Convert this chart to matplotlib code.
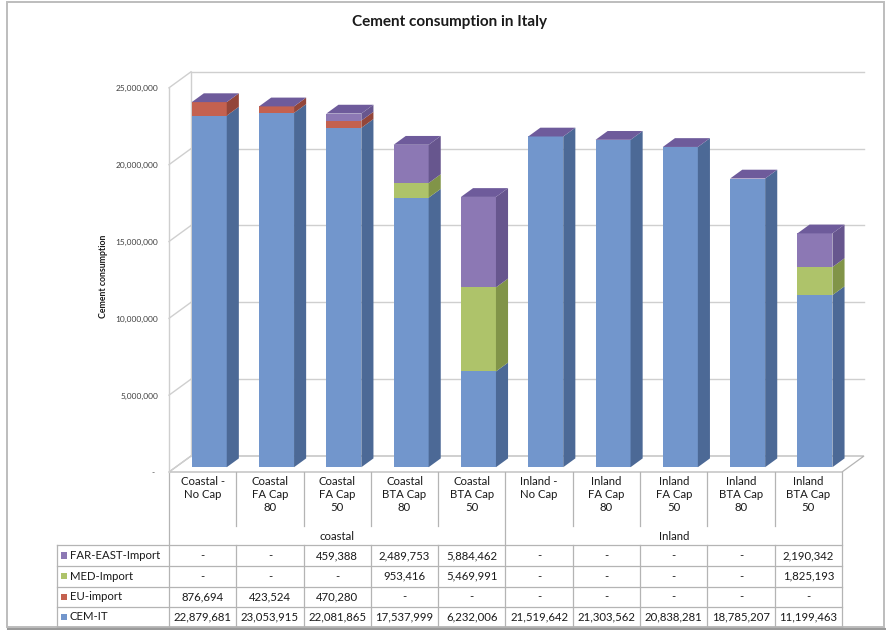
import matplotlib
matplotlib.use("Agg")
import matplotlib.pyplot as plt
from matplotlib.patches import Polygon, Rectangle

plt.rcParams['font.family'] = ['Lato', 'DejaVu Sans']

# ---- data -------------------------------------------------------------
categories = ["Coastal -\nNo Cap", "Coastal\nFA Cap\n80", "Coastal\nFA Cap\n50",
              "Coastal\nBTA Cap\n80", "Coastal\nBTA Cap\n50",
              "Inland -\nNo Cap", "Inland\nFA Cap\n80", "Inland\nFA Cap\n50",
              "Inland\nBTA Cap\n80", "Inland\nBTA Cap\n50"]
groups = ["coastal", "Inland"]
group_sizes = [5, 5]

cem_it = [22879681, 23053915, 22081865, 17537999, 6232006,
          21519642, 21303562, 20838281, 18785207, 11199463]
eu_import = [876694, 423524, 470280, 0, 0, 0, 0, 0, 0, 0]
med_import = [0, 0, 0, 953416, 5469991, 0, 0, 0, 0, 1825193]
far_east_import = [0, 0, 459388, 2489753, 5884462, 0, 0, 0, 0, 2190342]

series_names = ["CEM-IT", "EU-import", "MED-Import", "FAR-EAST-Import"]
y_ticks = [0, 5000000, 10000000, 15000000, 20000000, 25000000]

# ---- styles -----------------------------------------------------------
front_cols = ["#7296CC", "#C4614F", "#AEC36A", "#8C78B4"]
side_cols = ["#4C6996", "#93463A", "#819448", "#67568E"]
top_col = "#6E5B9B"
grid_col = "#CFCFCF"
line_col = "#B4B4B4"
text_col = "#1A1A1A"

W, H = 886, 630
fig = plt.figure(figsize=(W / 100, H / 100), dpi=100)
fig.patch.set_facecolor("white")

# overlay in pixel units for frame, titles and the data table
ov = fig.add_axes([0, 0, 1, 1], zorder=0)
ov.set_xlim(0, W)
ov.set_ylim(H, 0)
ov.axis("off")

# plot plane of the bar fronts
AX_L, AX_R, AX_T, AX_B = 175.6, 848.6, 83.0, 467.2
ax = fig.add_axes([AX_L / W, 1 - AX_B / H, (AX_R - AX_L) / W, (AX_B - AX_T) / H], zorder=1)
n = len(categories)
ax.set_xlim(-0.5, n - 0.5)
ax.set_ylim(0, y_ticks[-1])
ax.axis("off")
ax.patch.set_alpha(0)

px_x = (AX_R - AX_L) / n
px_y = (AX_B - AX_T) / y_ticks[-1]


def off(dx_px, dy_px):
    return dx_px / px_x, dy_px / px_y


fx, fy = off(-6.6, -4.8)     # front edge of the floor / side wall
bx, by = off(15.4, 11.2)     # back wall
dx, dy = off(12.1, 8.8)      # bar depth
x0, x1 = -0.5, n - 0.5
ymax = y_ticks[-1]

kw = dict(clip_on=False, zorder=0)
# floor
ax.add_patch(Polygon([(x0 + fx, fy), (x1 + fx, fy), (x1 + bx, by), (x0 + bx, by)],
                     closed=True, facecolor="white", edgecolor=line_col, lw=0.9, **kw))
# back wall gridlines and side wall gridlines
for v in y_ticks:
    if v > 0:
        ax.plot([x0 + bx, x1 + bx], [v + by, v + by], color=grid_col, lw=1.0, **kw)
    ax.plot([x0 + fx, x0 + bx], [v + fy, v + by], color=grid_col, lw=1.0, **kw)
ax.plot([x0 + fx, x0 + fx], [fy, ymax + fy], color=grid_col, lw=1.0, **kw)
ax.plot([x0 + bx, x0 + bx], [by, ymax + by], color=grid_col, lw=1.0, **kw)

# stacked 3D bars
stack = [cem_it, eu_import, med_import, far_east_import]
bw = 0.52
for i in range(n):
    bottom = 0
    for s, vals in enumerate(stack):
        h = vals[i]
        if h > 0:
            ax.bar(i, h, bottom=bottom, width=bw, color=front_cols[s],
                   edgecolor="none", zorder=2)
            xr = i + bw / 2
            ax.add_patch(Polygon([(xr, bottom), (xr + dx, bottom + dy),
                                  (xr + dx, bottom + h + dy), (xr, bottom + h)],
                                 closed=True, facecolor=side_cols[s],
                                 edgecolor="none", zorder=2, clip_on=False))
        bottom += h
    xl = i - bw / 2
    ax.add_patch(Polygon([(xl, bottom), (xl + bw, bottom), (xl + bw + dx, bottom + dy),
                          (xl + dx, bottom + dy)], closed=True, facecolor=top_col,
                         edgecolor="none", zorder=3, clip_on=False))

# y tick labels on the front edge
fig.canvas.draw()
trans = ax.transData
inv = ov.transData.inverted()
for v in y_ticks:
    px, py = inv.transform(trans.transform((x0 + fx, v + fy)))
    lab = f"{v:,.0f}" if v else "-"
    xx = px - 11 if v else px - 14
    ov.text(xx, py + 1, lab, ha="right", va="center", fontsize=6.0, color="#404040")

# titles
ov.text(450, 22, "Cement consumption in Italy", ha="center", va="center",
        fontsize=11, fontweight="bold", color=text_col)
ov.text(104, 276, "Cement consumption", rotation=90, ha="center", va="center",
        fontsize=6.3, fontweight="bold", color=text_col)

# chart frame
ov.add_patch(Rectangle((7, 2), 877, 625, facecolor="none", edgecolor="#BDBDBD", lw=1.4))
ov.plot([8, 885], [628.5, 628.5], color="#9A9A9A", lw=1.5)

# ---- data table ---------------------------------------------------------
TX0, TX1 = 169.0, 842.0
col_w = (TX1 - TX0) / n
LEG_X = 57.0
head_top, group_top = 472.0, 528.0
row_edges = [545.0, 566.0, 586.5, 607.0, 627.0]
lk = dict(color=line_col, lw=0.9, zorder=1)

cum = [0]
for g in group_sizes:
    cum.append(cum[-1] + g)

for k in range(n + 1):
    xk = TX0 + k * col_w
    if k in cum:
        ov.plot([xk, xk], [head_top, row_edges[-1]], **lk)
    else:
        ov.plot([xk, xk], [head_top, group_top - 2], **lk)
        ov.plot([xk, xk], [row_edges[0], row_edges[-1]], **lk)
for ry in row_edges:
    ov.plot([LEG_X, TX1], [ry, ry], **lk)
ov.plot([LEG_X, LEG_X], [row_edges[0], row_edges[-1]], **lk)

tfs = 8.2
for i, lab in enumerate(categories):
    ov.text(TX0 + (i + 0.5) * col_w, 476, lab, ha="center", va="top",
            fontsize=tfs, color=text_col, linespacing=1.22)
for g, name in enumerate(groups):
    cx = TX0 + (cum[g] + cum[g + 1]) / 2 * col_w
    ov.text(cx, 537, name, ha="center", va="center", fontsize=tfs, color=text_col)

rows = list(zip(series_names, stack, front_cols))[::-1]
for r, (name, vals, c) in enumerate(rows):
    yc = (row_edges[r] + row_edges[r + 1]) / 2
    ov.add_patch(Rectangle((61, yc - 3.2), 6.4, 6.4, facecolor=c, edgecolor="none"))
    ov.text(70, yc, name, ha="left", va="center", fontsize=tfs, color=text_col)
    for i, v in enumerate(vals):
        s = f"{v:,.0f}" if v else "-"
        ov.text(TX0 + (i + 0.5) * col_w, yc, s, ha="center", va="center",
                fontsize=tfs, color=text_col)

fig.savefig("out.png", dpi=100, facecolor="white")
